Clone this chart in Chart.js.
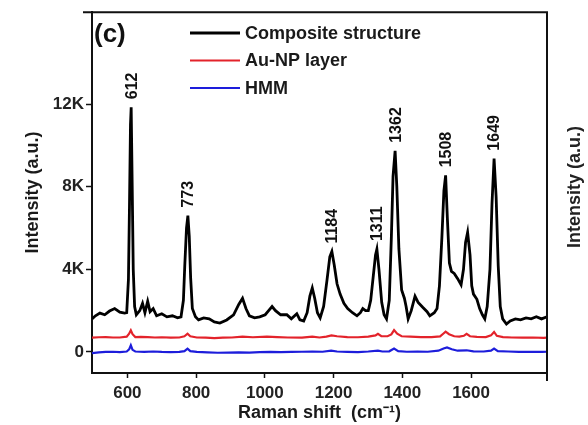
<!DOCTYPE html>
<html>
<head>
<meta charset="utf-8">
<script src="https://cdn.jsdelivr.net/npm/chart.js@4"></script>
<style>
  html, body { margin: 0; padding: 0; background: #fff; }
  canvas { display: block; }
</style>
</head>
<body>
<canvas id="raman-chart" width="588" height="425"></canvas>
<script>
// Raman shift (cm-1) and intensity (a.u.)
const compX = [
  497, 507, 520, 534, 548, 563, 578, 592, 598, 603,
  606, 609, 611, 614, 617, 621, 626, 636, 644, 651,
  659, 666, 675, 685, 700, 715, 731, 746, 756, 763,
  767, 772, 776, 780, 784, 789, 798, 807, 822, 838,
  853, 869, 889, 909, 924, 935, 945, 955, 970, 985,
  1001, 1011, 1021, 1031, 1046, 1064, 1077, 1093, 1102, 1113,
  1123, 1131, 1138, 1145, 1153, 1161, 1171, 1181, 1189, 1195,
  1202, 1210, 1219, 1230, 1241, 1255, 1268, 1278, 1285, 1293,
  1301, 1308, 1315, 1322, 1326, 1332, 1340, 1347, 1354, 1362,
  1368, 1373, 1379, 1384, 1390, 1398, 1406, 1411, 1417, 1426,
  1437, 1446, 1460, 1472, 1480, 1493, 1501, 1508, 1515, 1521,
  1526, 1531, 1537, 1543, 1551, 1561, 1571, 1578, 1584, 1590,
  1597, 1602, 1607, 1617, 1625, 1633, 1640, 1647, 1655, 1661,
  1667, 1673, 1679, 1685, 1692, 1703, 1714, 1729, 1744, 1760,
  1775, 1790, 1805, 1821
];
const compY = [
  1600, 1750, 1880, 1800, 1980, 2100, 1930, 1880, 1900, 3500,
  7000, 11000, 11850, 8000, 4000, 2200, 1800, 2000, 2350, 1900,
  2450, 1950, 2100, 1750, 1850, 1700, 1750, 1650, 1700, 2500,
  4200, 6000, 6600, 5600, 3600, 2100, 1700, 1550, 1650, 1600,
  1450, 1400, 1550, 1800, 2300, 2600, 2100, 1750, 1650, 1700,
  1800, 2000, 2200, 2000, 1800, 1800, 1600, 1850, 1550, 1500,
  1900, 2700, 3100, 2600, 1900, 1650, 2200, 3500, 4600, 4860,
  4200, 3300, 2800, 2350, 2100, 1900, 1750, 1900, 2100, 2000,
  2000, 2500, 3600, 4700, 4980, 4000, 2400, 1800, 1600, 2500,
  5500, 8500, 9740, 8000, 5000, 3000, 2600, 2200, 1600, 2000,
  2700, 2400, 2150, 1950, 1750, 1900, 2100, 3200, 5500, 7800,
  8550, 6500, 4300, 3900, 3800, 3550, 3250, 4000, 5300, 5790,
  4700, 3200, 2800, 2550, 2100, 1800, 1600, 2200, 4000, 7200,
  9360, 7500, 4200, 2200, 1600, 1350, 1500, 1600, 1550, 1650,
  1600, 1700, 1600, 1700
];

const auX = [
  497, 517, 537, 558, 578, 598, 605, 610, 615, 623,
  639, 659, 680, 700, 726, 751, 766, 775, 783, 802,
  828, 853, 878, 904, 935, 965, 1006, 1036, 1067, 1108,
  1138, 1159, 1179, 1194, 1210, 1240, 1271, 1301, 1322, 1329,
  1339, 1357, 1368, 1376, 1385, 1398, 1423, 1454, 1485, 1510,
  1519, 1526, 1536, 1551, 1566, 1579, 1587, 1597, 1617, 1643,
  1658, 1667, 1675, 1693, 1719, 1750, 1780, 1811, 1821
];
const auY = [
  690, 710, 720, 700, 700, 740, 880, 1050, 860, 720,
  730, 720, 700, 710, 690, 700, 760, 880, 760, 700,
  690, 670, 690, 700, 740, 710, 740, 720, 700, 690,
  740, 700, 740, 800, 760, 720, 710, 740, 800, 880,
  760, 760, 850, 1060, 880, 760, 740, 720, 720, 750,
  880, 980, 860, 760, 740, 780, 880, 760, 730, 720,
  800, 970, 780, 720, 700, 690, 700, 680, 690
];

const hmmX = [
  497, 517, 537, 558, 578, 598, 605, 610, 615, 623,
  649, 675, 700, 726, 751, 766, 775, 783, 802, 833,
  863, 894, 924, 955, 985, 1016, 1047, 1077, 1108, 1138,
  1168, 1193, 1210, 1240, 1271, 1301, 1329, 1342, 1362, 1376,
  1388, 1413, 1444, 1474, 1505, 1520, 1530, 1544, 1561, 1587,
  1607, 1637, 1658, 1667, 1678, 1708, 1739, 1770, 1806, 1821
];
const hmmY = [
  -60, -20, 0, 10, -10, 20, 120, 320, 100, 20,
  0, 20, 0, -10, 0, 40, 160, 40, 0, -20,
  -40, -30, -20, -30, -10, 0, -10, 0, 10, 20,
  10, 60, 20, 0, -10, 20, 60, 20, 30, 160,
  40, 10, 20, 10, 60, 170, 220, 130, 60, 80,
  30, 20, 60, 160, 40, 20, 0, 10, 0, 10
];

const seriesNames = ['Composite structure', 'Au-NP layer', 'HMM'];
const seriesColors = ['#000000', '#e3232b', '#1d1ddb'];
const peakLabels = ['612', '773', '1184', '1311', '1362', '1508', '1649'];
const peakPos = [611, 776, 1195, 1326, 1379, 1526, 1667];
const xTicks = [600, 800, 1000, 1200, 1400, 1600];
const yTicks = [0, 4000, 8000, 12000];

const FONT = "'Liberation Sans', Arial, sans-serif";

function toPoints(xs, ys) {
  return xs.map((x, i) => ({ x: x, y: ys[i] }));
}

// highest point of the composite spectrum near a given shift
function peakValue(pos) {
  let best = -Infinity;
  compX.forEach((x, i) => {
    if (Math.abs(x - pos) <= 4 && compY[i] > best) best = compY[i];
  });
  return best;
}

const decorations = {
  id: 'decorations',
  afterDraw(chart) {
    const ctx = chart.ctx;
    const area = chart.chartArea;
    const xs = chart.scales.x;
    const ys = chart.scales.y;

    ctx.save();
    // top and right frame
    ctx.strokeStyle = '#111';
    ctx.lineWidth = 2;
    ctx.beginPath();
    ctx.moveTo(area.left - 9, area.top);
    ctx.lineTo(area.right, area.top);
    ctx.lineTo(area.right, area.bottom + 8);
    ctx.stroke();

    // panel letter
    ctx.fillStyle = '#111';
    ctx.font = 'bold 26px ' + FONT;
    ctx.textAlign = 'left';
    ctx.textBaseline = 'middle';
    ctx.fillText('(c)', area.left + 2, 35);

    // legend
    ctx.font = 'bold 18px ' + FONT;
    seriesNames.forEach((name, i) => {
      const y = 33 + i * 27.5;
      ctx.strokeStyle = seriesColors[i];
      ctx.lineWidth = i === 0 ? 3 : 2.2;
      ctx.beginPath();
      ctx.moveTo(190, y);
      ctx.lineTo(240, y);
      ctx.stroke();
      ctx.fillStyle = '#1a1a1a';
      ctx.fillText(name, 245, y + 1);
    });

    // peak labels
    ctx.font = 'bold 16px ' + FONT;
    ctx.fillStyle = '#111';
    peakLabels.forEach((label, i) => {
      const px = xs.getPixelForValue(peakPos[i]);
      const py = ys.getPixelForValue(peakValue(peakPos[i]));
      ctx.save();
      ctx.translate(px + 1, py - 8);
      ctx.rotate(-Math.PI / 2);
      ctx.textAlign = 'left';
      ctx.textBaseline = 'middle';
      ctx.fillText(label, 0, 0);
      ctx.restore();
    });

    // axis title of the neighbouring panel, cut by the edge
    ctx.save();
    ctx.translate(575, 187);
    ctx.rotate(-Math.PI / 2);
    ctx.font = 'bold 18px ' + FONT;
    ctx.fillStyle = '#222';
    ctx.textAlign = 'center';
    ctx.textBaseline = 'middle';
    ctx.fillText('Intensity (a.u.)', 0, 0);
    ctx.restore();

    ctx.restore();
  }
};

const ctx = document.getElementById('raman-chart').getContext('2d');

new Chart(ctx, {
  type: 'line',
  data: {
    datasets: [
      {
        label: seriesNames[0],
        data: toPoints(compX, compY),
        borderColor: seriesColors[0],
        borderWidth: 2.8
      },
      {
        label: seriesNames[1],
        data: toPoints(auX, auY),
        borderColor: seriesColors[1],
        borderWidth: 2.2
      },
      {
        label: seriesNames[2],
        data: toPoints(hmmX, hmmY),
        borderColor: seriesColors[2],
        borderWidth: 2.2
      }
    ]
  },
  options: {
    responsive: false,
    animation: false,
    devicePixelRatio: 1,
    elements: {
      point: { radius: 0 },
      line: { tension: 0 }
    },
    layout: {
      padding: { top: 6, right: 41, left: 0, bottom: 0 }
    },
    plugins: {
      legend: { display: false },
      tooltip: { enabled: false }
    },
    scales: {
      x: {
        type: 'linear',
        min: 497,
        max: 1821,
        afterBuildTicks: axis => {
          axis.ticks = xTicks.map(v => ({ value: v }));
        },
        afterFit: axis => { axis.height = 52; },
        grid: {
          display: true,
          drawOnChartArea: false,
          drawTicks: true,
          tickLength: 5,
          tickWidth: 1.5,
          color: '#111'
        },
        border: { display: true, color: '#111', width: 2 },
        ticks: {
          color: '#222',
          padding: 5,
          maxRotation: 0,
          font: { family: FONT, size: 17, weight: 'bold' },
          callback: v => String(v)
        },
        title: {
          display: true,
          text: 'Raman shift  (cm\u207B\u00B9)',
          color: '#1a1a1a',
          padding: { top: 0, bottom: 1 },
          font: { family: FONT, size: 18, weight: 'bold' }
        }
      },
      y: {
        min: -1020,
        max: 16450,
        afterBuildTicks: axis => {
          axis.ticks = yTicks.map(v => ({ value: v }));
        },
        afterFit: axis => { axis.width = 92; },
        grid: {
          display: true,
          drawOnChartArea: false,
          drawTicks: true,
          tickLength: 6,
          tickWidth: 1.5,
          color: '#111'
        },
        border: { display: true, color: '#111', width: 2 },
        ticks: {
          color: '#222',
          padding: 2,
          font: { family: FONT, size: 17, weight: 'bold' },
          callback: v => (v === 0 ? '0' : (v / 1000) + 'K')
        },
        title: {
          display: true,
          text: 'Intensity (a.u.)',
          color: '#1a1a1a',
          padding: { top: 22, bottom: 0 },
          font: { family: FONT, size: 18, weight: 'bold' }
        }
      }
    }
  },
  plugins: [decorations]
});
</script>
</body>
</html>
